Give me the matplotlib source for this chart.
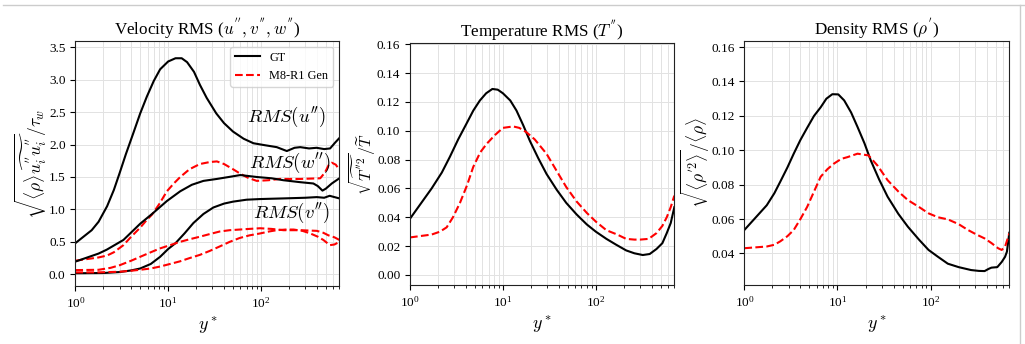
import numpy as np
import matplotlib
matplotlib.use('Agg')
import matplotlib.pyplot as plt
from matplotlib.lines import Line2D

plt.rcParams['font.family'] = ['Liberation Serif', 'DejaVu Serif']
plt.rcParams['mathtext.fontset'] = 'cm'

# Velocity RMS, GT
y_u_gt = [1, 1.5, 1.78, 2.2, 2.6, 3.0, 3.5, 4.2, 5, 5.9, 7, 8.2, 10, 12, 14, 16, 19, 22, 26, 33, 40, 50, 65, 83,
          110, 148, 190, 230, 265, 330, 398, 480, 556, 630, 700]
u_gt = [0.48, 0.68, 0.81, 1.05, 1.30, 1.56, 1.85, 2.17, 2.48, 2.74, 2.98, 3.16, 3.28, 3.33, 3.33, 3.27, 3.12, 2.92,
        2.72, 2.48, 2.33, 2.20, 2.09, 2.02, 1.99, 1.96, 1.90, 1.95, 1.96, 1.94, 1.95, 1.93, 1.94, 2.03, 2.10]
y_w_gt = [1, 1.78, 2.18, 3.3, 5, 6.7, 9.7, 13.5, 18, 24, 33.5, 45, 60, 90, 130, 175, 265, 367, 410, 460, 500, 580, 700]
w_gt = [0.196, 0.32, 0.38, 0.53, 0.78, 0.93, 1.13, 1.28, 1.38, 1.44, 1.47, 1.50, 1.53, 1.50, 1.48, 1.45, 1.42,
        1.40, 1.36, 1.29, 1.32, 1.40, 1.48]
y_v_gt = [1, 2, 3, 4, 5, 6.5, 8.2, 10, 12, 15, 18.7, 24, 30.7, 40, 50, 70, 98, 175, 300, 400, 480, 550, 620, 700]
v_gt = [0.016, 0.02, 0.035, 0.06, 0.09, 0.16, 0.27, 0.39, 0.48, 0.63, 0.79, 0.93, 1.03, 1.09, 1.12, 1.15, 1.16,
        1.17, 1.18, 1.19, 1.18, 1.21, 1.19, 1.17]

# Velocity RMS, generated
y_u_gen = [1, 1.78, 2.2, 2.6, 3.3, 4, 5, 5.9, 6.7, 8, 9.7, 11.5, 13.5, 17, 22, 28, 33.5, 40, 50, 60, 72, 90, 120,
           160, 265, 435, 490, 535, 580, 640, 700]
u_gen = [0.21, 0.26, 0.29, 0.34, 0.45, 0.58, 0.72, 0.84, 0.92, 1.08, 1.28, 1.40, 1.50, 1.62, 1.70, 1.73, 1.74,
         1.70, 1.62, 1.55, 1.49, 1.44, 1.45, 1.47, 1.47, 1.48, 1.57, 1.68, 1.72, 1.69, 1.61]
y_a_gen = [1, 1.78, 2.4, 3.0, 4, 5.0, 6.5, 8.2, 10.5, 13.4, 17, 22, 28, 36, 46, 59, 75, 98, 130, 175, 265, 400,
           470, 535, 620, 700]
a_gen = [0.065, 0.07, 0.10, 0.14, 0.21, 0.27, 0.34, 0.40, 0.45, 0.50, 0.54, 0.58, 0.62, 0.66, 0.68, 0.69, 0.70,
         0.71, 0.70, 0.68, 0.68, 0.67, 0.64, 0.60, 0.57, 0.53]
y_b_gen = [1, 1.78, 3.0, 4, 5.0, 6.5, 8.2, 10.5, 13.4, 17, 22, 28, 36, 46, 59, 75, 98, 122, 148, 185, 225, 280,
           340, 410, 470, 520, 555, 620, 700]
b_gen = [0.03, 0.03, 0.04, 0.055, 0.07, 0.09, 0.12, 0.16, 0.20, 0.25, 0.30, 0.36, 0.43, 0.50, 0.56, 0.60, 0.63,
         0.66, 0.68, 0.69, 0.69, 0.67, 0.63, 0.58, 0.53, 0.48, 0.45, 0.46, 0.50]

# Temperature RMS
y_t_gt = [1, 1.71, 2.2, 2.69, 3.3, 4.06, 4.8, 5.65, 6.6, 7.7, 8.8, 10, 12, 14, 16.5, 19.5, 24, 29.5, 38, 48, 62, 80,
          100, 130, 165, 212, 260, 320, 380, 450, 520, 580, 640, 700]
t_gt = [0.039, 0.060, 0.071, 0.082, 0.094, 0.105, 0.114, 0.121, 0.126, 0.129, 0.1285, 0.126, 0.121, 0.114, 0.104,
        0.093, 0.081, 0.070, 0.059, 0.050, 0.042, 0.035, 0.030, 0.025, 0.021, 0.017, 0.015, 0.0138, 0.0145, 0.018,
        0.022, 0.029, 0.036, 0.047]
y_t_gen = [1, 1.71, 2.1, 2.48, 2.9, 3.45, 4.1, 4.8, 5.7, 6.7, 8.2, 10, 12.9, 15, 17.9, 22, 29.5, 38, 48, 62, 80,
           100, 130, 170, 212, 260, 300, 370, 450, 520, 580, 640, 700]
t_gen = [0.026, 0.028, 0.030, 0.033, 0.040, 0.050, 0.062, 0.075, 0.085, 0.091, 0.097, 0.102, 0.103, 0.102, 0.099,
         0.094, 0.084, 0.072, 0.061, 0.051, 0.043, 0.037, 0.031, 0.028, 0.025, 0.0245, 0.0245, 0.025, 0.029, 0.034,
         0.040, 0.047, 0.055]

# Density RMS
y_r_gt = [1, 1.74, 2.1, 2.43, 2.9, 3.39, 4, 4.72, 5.6, 6.6, 7.6, 8.8, 10.2, 11.8, 14, 16.4, 19.5, 22.8, 28, 34.5,
          45, 57, 75, 95, 120, 153, 200, 272, 330, 380, 420, 450, 520, 580, 630, 660, 700]
r_gt = [0.0536, 0.068, 0.075, 0.0817, 0.090, 0.098, 0.106, 0.113, 0.120, 0.125, 0.130, 0.1326, 0.1325, 0.129, 0.122,
        0.1136, 0.104, 0.094, 0.083, 0.073, 0.063, 0.0555, 0.048, 0.042, 0.038, 0.034, 0.032, 0.0303, 0.0298,
        0.0297, 0.031, 0.0317, 0.032, 0.035, 0.038, 0.041, 0.052]
y_r_gen = [1, 1.74, 2.1, 2.43, 2.9, 3.39, 4, 4.72, 5.6, 6.6, 7.8, 9.2, 11, 12.8, 16.4, 21.5, 27, 34.5, 45, 57, 75,
           95, 120, 153, 200, 252, 310, 380, 450, 530, 580, 630, 700]
r_gen = [0.043, 0.044, 0.045, 0.047, 0.050, 0.0536, 0.060, 0.067, 0.076, 0.0846, 0.089, 0.0923, 0.095, 0.096, 0.098,
         0.097, 0.091, 0.0826, 0.076, 0.071, 0.067, 0.0633, 0.061, 0.0598, 0.057, 0.0536, 0.051, 0.0487, 0.046,
         0.043, 0.042, 0.0439, 0.0516]

fig = plt.figure(figsize=(10.25, 3.44), dpi=100)
ax1 = fig.add_axes([0.0735, 0.1686, 0.2576, 0.713])
ax2 = fig.add_axes([0.400, 0.1715, 0.2579, 0.704])
ax3 = fig.add_axes([0.7262, 0.1715, 0.2585, 0.710])

lw = 1.5
ax1.semilogx(y_u_gt, u_gt, color='black', lw=lw, label='GT')
ax1.semilogx(y_u_gen, u_gen, color='red', ls='--', lw=lw, label='M8-R1 Gen')
ax1.semilogx(y_w_gt, w_gt, color='black', lw=lw)
ax1.semilogx(y_v_gt, v_gt, color='black', lw=lw)
ax1.semilogx(y_a_gen, a_gen, color='red', ls='--', lw=lw)
ax1.semilogx(y_b_gen, b_gen, color='red', ls='--', lw=lw)
ax1.set_ylim(-0.18, 3.6)
ax1.set_title(r"Velocity RMS ($u^{''}, v^{''}, w^{''}$)", fontsize=12.3, pad=4)
ax1.set_ylabel(r"$\sqrt{\langle\rho\rangle\widetilde{u_i^{''}u_i^{''}}}/\tau_w$", fontsize=12.5)
ax1.yaxis.set_label_coords(-0.1, 0.5)
ax1.text(70, 2.43, r"$RMS(u'')$", fontsize=13.5, va='center')
ax1.text(75, 1.71, r"$RMS(w'')$", fontsize=13.5, va='center')
ax1.text(83, 0.94, r"$RMS(v'')$", fontsize=13.5, va='center')
ax1.legend(loc='upper right', fontsize=8.8)

ax2.semilogx(y_t_gt, t_gt, color='black', lw=lw)
ax2.semilogx(y_t_gen, t_gen, color='red', ls='--', lw=lw)
ax2.set_ylim(-0.007, 0.161)
ax2.set_yticks([0.0, 0.02, 0.04, 0.06, 0.08, 0.10, 0.12, 0.14, 0.16])
ax2.set_yticklabels(['0.00', '0.02', '0.04', '0.06', '0.08', '0.10', '0.12', '0.14', '0.16'])
ax2.set_title(r"Temperature RMS ($T^{''}$)", fontsize=12.3, pad=4)
ax2.set_ylabel(r"$\sqrt{\widetilde{T^{''2}}}/\widetilde{T}$", fontsize=11.5)
ax2.yaxis.set_label_coords(-0.122, 0.5)

ax3.semilogx(y_r_gt, r_gt, color='black', lw=lw)
ax3.semilogx(y_r_gen, r_gen, color='red', ls='--', lw=lw)
ax3.set_ylim(0.0216, 0.1637)
ax3.set_yticks([0.04, 0.06, 0.08, 0.10, 0.12, 0.14, 0.16])
ax3.set_yticklabels(['0.04', '0.06', '0.08', '0.10', '0.12', '0.14', '0.16'])
ax3.set_title(r"Density RMS ($\rho^{'}$)", fontsize=12.3, pad=4)
ax3.set_ylabel(r"$\sqrt{\langle\rho^{'2}\rangle}/\langle\rho\rangle$", fontsize=12.5)
ax3.yaxis.set_label_coords(-0.122, 0.5)

for ax in (ax1, ax2, ax3):
    ax.set_xlim(1, 700)
    ax.set_xlabel(r"$y^*$", fontsize=13)
    ax.grid(True, which='both', color='#e2e2e2', lw=0.7)
    ax.tick_params(labelsize=9.5)
    for s in ax.spines.values():
        s.set_color('#222222')

# light border of the screenshot
fig.add_artist(Line2D([0.003, 1.0], [0.9855, 0.9855], color='#cccccc', lw=1))
fig.add_artist(Line2D([0.9956, 0.9956], [0.0, 0.9855], color='#cccccc', lw=1))

fig.savefig('out.png', dpi=100)
